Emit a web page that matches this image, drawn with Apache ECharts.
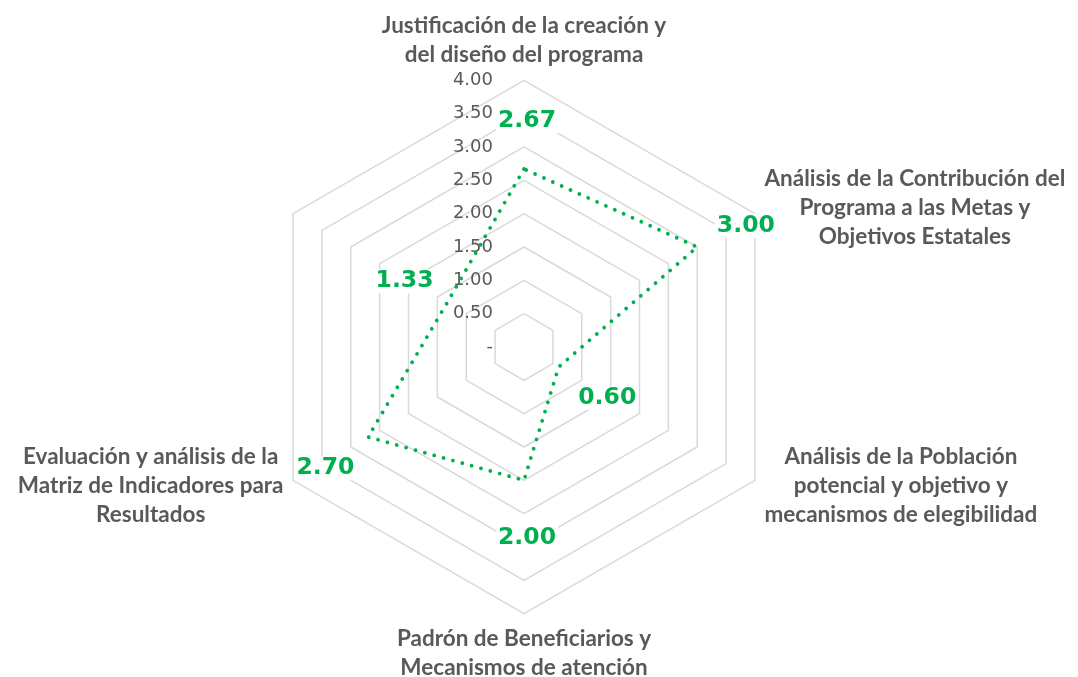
<!DOCTYPE html>
<html><head><meta charset="utf-8">
<script src="https://cdn.jsdelivr.net/npm/echarts@6/dist/echarts.min.js"></script>
<style>html,body{margin:0;padding:0;background:#fff}#c{width:1078px;height:677px}</style>
</head><body><div id="c"></div>
<script>
// Categories in the reference's clockwise order, starting at the top
const categories = [
  "Justificación de la creación y\ndel diseño del programa",
  "Análisis de la Contribución del\nPrograma a las Metas y\nObjetivos Estatales",
  "Análisis de la Población\npotencial y objetivo y\nmecanismos de elegibilidad",
  "Padrón de Beneficiarios y\nMecanismos de atención",
  "Evaluación y análisis de la\nMatriz de Indicadores para\nResultados",
  ""
];
const values = [2.67, 3.00, 0.60, 2.00, 2.70, 1.33];
const axisMin = 0, axisMax = 4, axisStep = 0.5;
const tickLabels = ["-", "0.50", "1.00", "1.50", "2.00", "2.50", "3.00", "3.50", "4.00"];

// ECharts radar runs counter-clockwise: reorder
const order = [0, 5, 4, 3, 2, 1];
const LABEL_OFFSET = 0.79;
const GREEN = '#00B050', GRAY = '#595959';

const indicators = order.map((i, k) => {
  const ind = { name: categories[i], min: axisMin, max: axisMax };
  if (k === 0) {
    ind.axisLabel = {
      show: true, margin: 31, color: GRAY, fontFamily: 'DejaVu Sans', fontSize: 18,
      formatter: v => tickLabels[Math.round((v - axisMin) / axisStep)]
    };
  }
  return ind;
});

const chart = echarts.init(document.getElementById('c'), null, { renderer: 'canvas' });
chart.setOption({
  animation: false,
  backgroundColor: '#fff',
  radar: {
    center: [524, 347],
    radius: 266.7,
    startAngle: 90,
    shape: 'polygon',
    splitNumber: (axisMax - axisMin) / axisStep,
    indicator: indicators,
    nameGap: 11,
    axisName: {
      formatter: n => n.split('\n').map(l => '{c|' + l + '}').join('\n'),
      rich: { c: { align: 'center', color: GRAY, fontFamily: 'Lato', fontWeight: 'bold', fontSize: 22.5, lineHeight: 29 } }
    },
    axisLine: { show: false },
    axisTick: { show: false },
    axisLabel: { show: false },
    splitArea: { show: false },
    splitLine: { lineStyle: { color: '#D9D9D9', width: 1.5 } }
  },
  series: [
    {
      type: 'radar', silent: true, symbol: 'none', z: 2,
      lineStyle: { color: GREEN, width: 3.8, type: [0.01, 9.7], cap: 'round' },
      data: [{ value: order.map(i => values[i]) }]
    },
    {
      type: 'radar', silent: true, symbol: 'circle', symbolSize: 1, z: 3,
      itemStyle: { color: 'rgba(0,0,0,0)', borderWidth: 0 },
      lineStyle: { width: 0, opacity: 0 },
      label: {
        show: true, position: 'inside', offset: [3, 5], color: GREEN, fontFamily: 'DejaVu Sans',
        fontWeight: 'bold', fontSize: 23.5, backgroundColor: '#fff', padding: [0, 2],
        formatter: p => (p.value - LABEL_OFFSET).toFixed(2)
      },
      data: [{ value: order.map(i => values[i] + LABEL_OFFSET) }]
    }
  ]
});
</script></body></html>
